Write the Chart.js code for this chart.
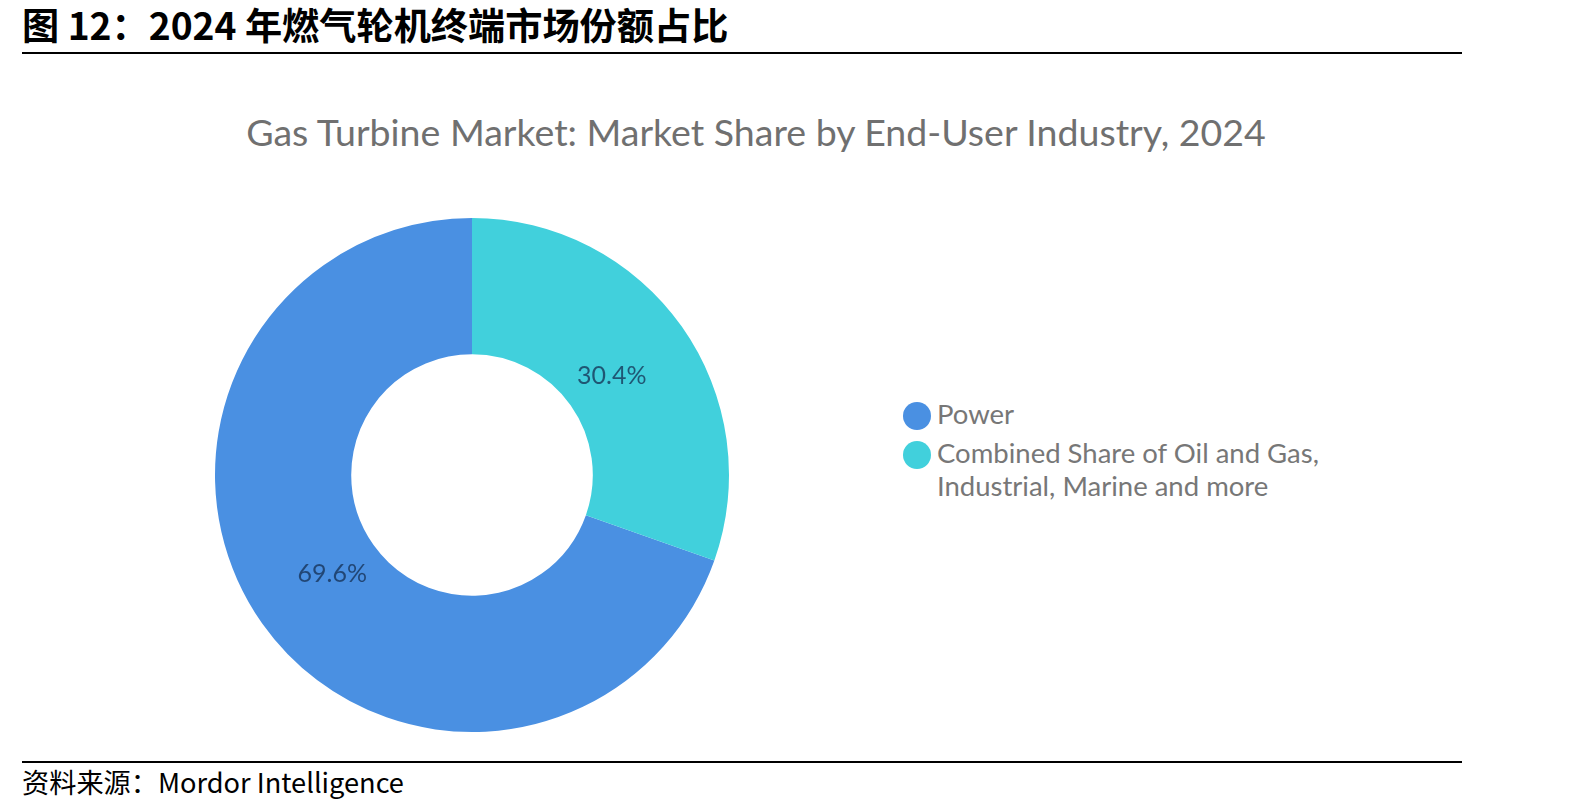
<!DOCTYPE html>
<html>
<head>
<meta charset="utf-8">
<script src="https://cdn.jsdelivr.net/npm/chart.js@4/dist/chart.umd.min.js"></script>
<style>
body{margin:0;background:#fff;width:1594px;height:810px;position:relative;overflow:hidden;}
#head{position:absolute;left:22px;top:-3px;font-family:"Noto Sans CJK SC";font-weight:700;font-size:37.2px;color:#000;white-space:nowrap;}
.rule{position:absolute;left:22px;width:1440px;height:0;border-top:2px solid #000;}
#foot{position:absolute;left:22px;top:761px;font-family:"Noto Sans CJK SC";font-size:27.2px;color:#000;white-space:nowrap;}
#ctitle{position:absolute;left:0;width:1512px;text-align:center;top:109px;font-family:Lato;font-size:37.5px;color:#707070;white-space:nowrap;}
#wrap{position:absolute;left:205px;top:208px;width:534px;height:534px;}
#legend{position:absolute;left:903px;top:397px;font-family:Lato;font-size:27.5px;color:#777;}
.item{position:relative;padding-left:34px;line-height:33px;margin-bottom:6px;width:440px;}
.dot{position:absolute;left:0;top:5px;width:28px;height:28px;border-radius:50%;}
</style>
</head>
<body>
<div id="head">图 12：2024 年燃气轮机终端市场份额占比</div>
<div class="rule" style="top:52px"></div>
<div id="ctitle">Gas Turbine Market: Market Share by End-User Industry, 2024</div>
<div id="wrap"><canvas id="pie"></canvas></div>
<div id="legend"></div>
<div class="rule" style="top:761px"></div>
<div id="foot">资料来源：Mordor Intelligence</div>
<script>
var labels = ["Power", "Combined Share of Oil and Gas, Industrial, Marine and more"];
var shares = [69.6, 30.4];
var colors = ["#4a90e2", "#41d0dc"];

// legend
var lg = document.getElementById("legend");
for (var i = 0; i < labels.length; i++) {
	var d = document.createElement("div");
	d.className = "item";
	d.innerHTML = '<span class="dot" style="background:' + colors[i] + '"></span>' + labels[i];
	lg.appendChild(d);
}

// percent labels inside the ring
var pctLabels = {
	id: "pctLabels",
	afterDatasetsDraw: function(chart) {
		var ctx = chart.ctx;
		var meta = chart.getDatasetMeta(0);
		ctx.save();
		ctx.font = "25px Lato";
		ctx.fillStyle = "rgba(20,45,80,0.75)";
		ctx.textAlign = "center";
		ctx.textBaseline = "middle";
		meta.data.forEach(function(arc, i) {
			var p = arc.getProps(["x", "y", "startAngle", "endAngle", "innerRadius", "outerRadius"]);
			var a = (p.startAngle + p.endAngle) / 2;
			var r = p.innerRadius + (p.outerRadius - p.innerRadius) * 0.37;
			ctx.fillText(shares[i].toFixed(1) + "%", p.x + Math.cos(a) * r, p.y + Math.sin(a) * r);
		});
		ctx.restore();
	}
};

new Chart(document.getElementById("pie"), {
	type: "doughnut",
	data: {
		labels: labels,
		datasets: [{
			data: shares,
			backgroundColor: colors,
			borderWidth: 0
		}]
	},
	options: {
		responsive: true,
		maintainAspectRatio: true,
		animation: false,
		cutout: "47%",
		rotation: shares[1] / 100 * 360,
		layout: {padding: 10},
		plugins: {
			legend: {display: false},
			tooltip: {enabled: false}
		}
	},
	plugins: [pctLabels]
});
</script>
</body>
</html>
